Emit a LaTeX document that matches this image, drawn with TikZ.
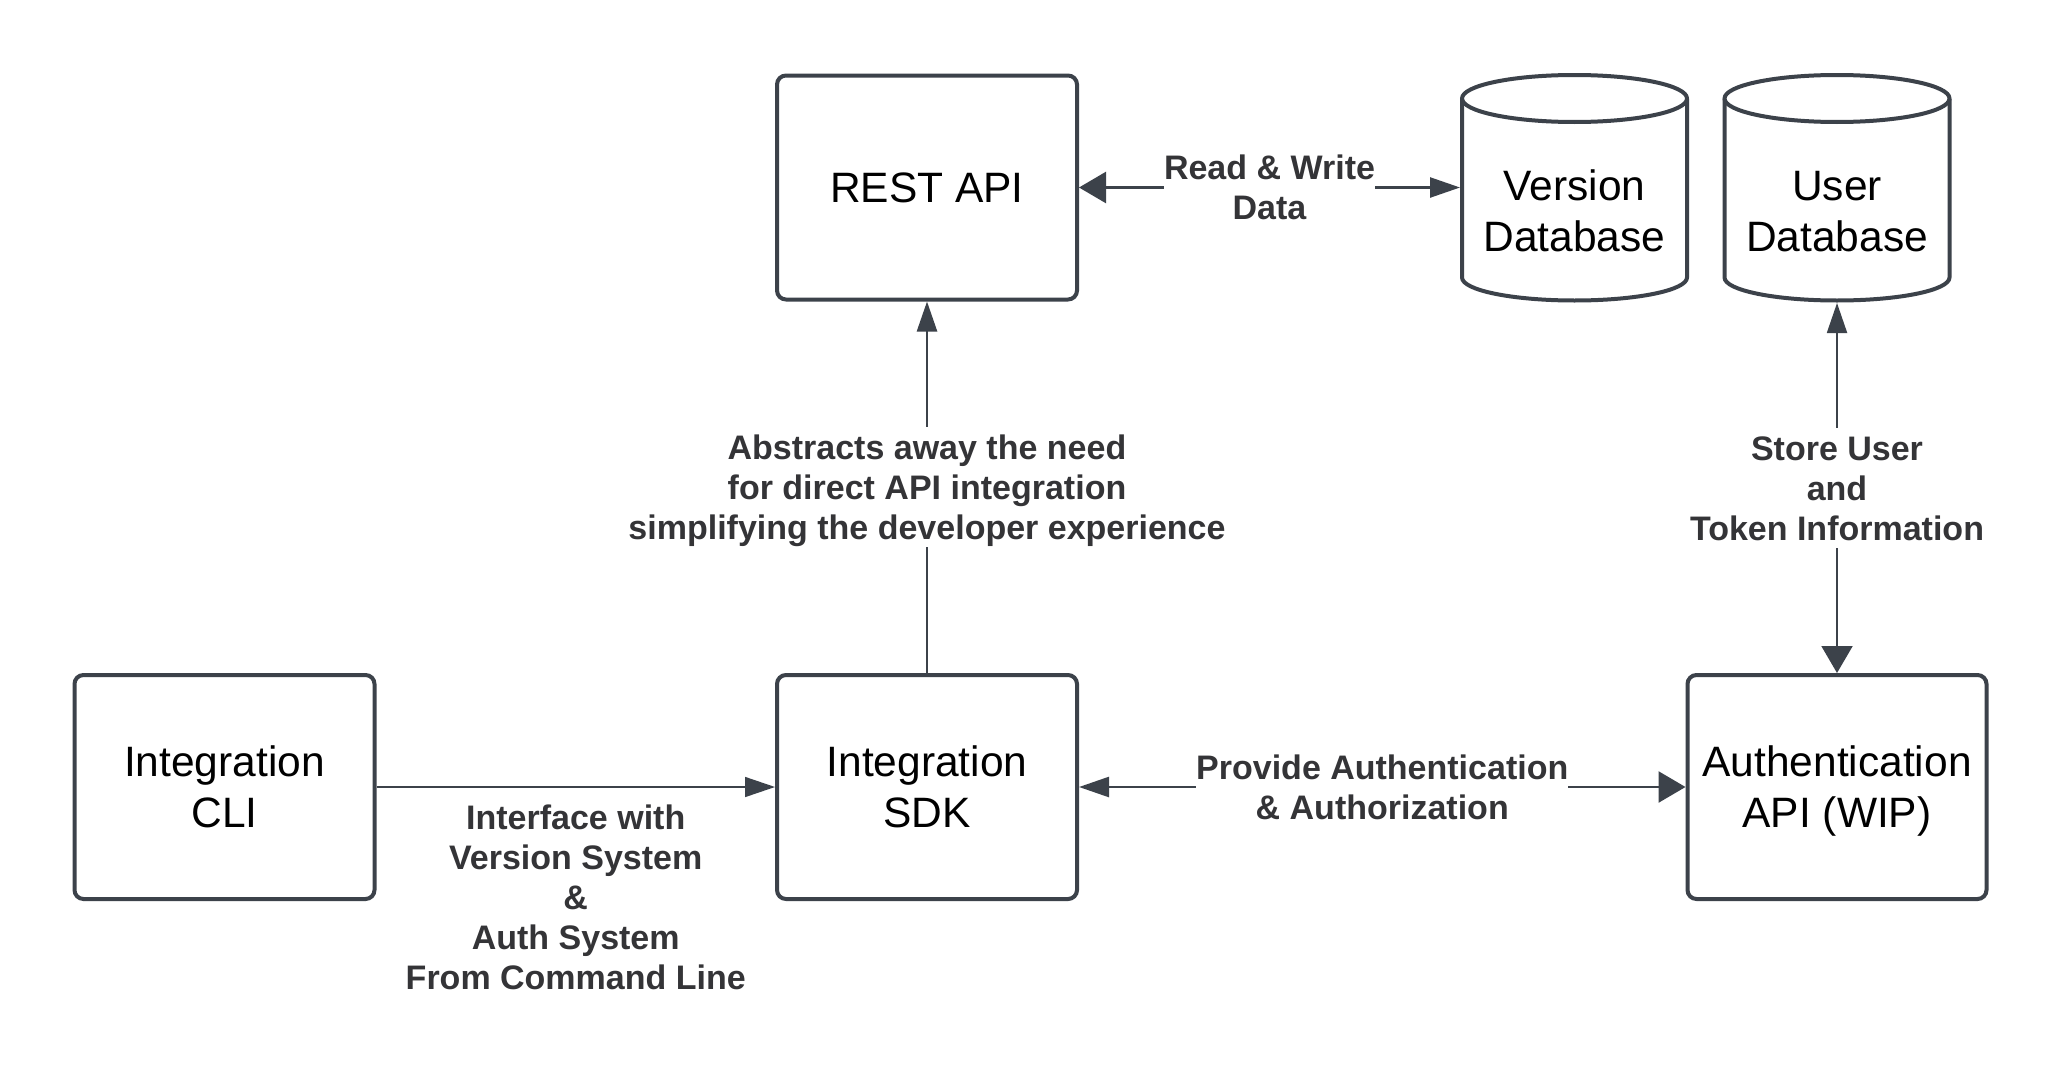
\documentclass[tikz,border=0pt]{standalone}
\usepackage{fontspec}
\setmainfont{Liberation Sans}
\usetikzlibrary{arrows.meta}
\definecolor{edge}{RGB}{60,66,74}
\definecolor{lbltext}{RGB}{52,52,55}
\newcommand{\lstr}{\vrule height 32pt depth 8pt width 0pt}
\newcommand{\bstr}{\vrule height 40.5pt depth 10.5pt width 0pt}
\begin{document}
\begin{tikzpicture}[x=1pt,y=-1pt,
  box/.style={draw=edge, line width=4pt, rounded corners=9pt, minimum width=300pt,
    minimum height=224pt, inner sep=0pt, align=center,
    font=\fontsize{42.5pt}{51pt}\selectfont, text=black},
  dbshape/.style={draw=none, line width=4pt, minimum width=225pt, minimum height=227pt, inner sep=0pt},
  cyl/.style={draw=edge, line width=4pt, line join=round},
  dbtext/.style={align=center, inner sep=0pt, font=\fontsize{42.5pt}{51pt}\selectfont, text=black},
  conn/.style={draw=edge, line width=2.5pt},
  lbl/.style={fill=white, text=lbltext, inner sep=0pt, align=center,
    font=\fontsize{34pt}{40pt}\selectfont\bfseries},
  bigtip/.tip={Triangle[length=27pt,width=31pt]},
  smalltip/.tip={Triangle[length=30pt,width=20pt]}]

\fill[white] (0,0) rectangle (2063,1073);
\useasboundingbox (0,0) rectangle (2063,1073);

% boxes
\node[box] (rest) at (927,187.5) {\bstr REST API};
\node[box] (cli) at (224.5,787) {\bstr Integration\\\bstr CLI};
\node[box] (sdk) at (927,787) {\bstr Integration\\\bstr SDK};
\node[box, minimum width=299pt] (auth) at (1837,787) {\bstr Authentication\\\bstr API (WIP)};

% databases
\node[dbshape] (vdb) at (1574.5,187.5) {};
\node[dbshape] (udb) at (1837,187.5) {};
\foreach \db in {vdb,udb}{
  \begin{scope}[shift={(\db.center)}]
    \draw[cyl] (-112.5,-89) -- (-112.5,90)
      arc[start angle=180, end angle=0, x radius=112.5, y radius=23] -- (112.5,-89);
    \draw[cyl] (0,-89) ellipse[x radius=112.5, y radius=23.5];
  \end{scope}
}
\node[dbtext] (vdbt) at ([yshift=-23.5pt]vdb.center) {\bstr Version\\\bstr Database};
\node[dbtext] (udbt) at ([yshift=-23.5pt]udb.center) {\bstr User\\\bstr Database};

% connectors
\draw[conn, {bigtip}-{smalltip}] (rest.east) --
  node[lbl] (rwl) {\lstr Read \& Write\\\lstr Data} (vdb.west);
\draw[conn, -{smalltip}] (sdk.north) --
  node[lbl] (absl) {\lstr Abstracts away the need\\for direct API integration\\\lstr simplifying the developer experience} (rest.south);
\draw[conn, line width=2pt, {smalltip}-{bigtip}] (udb.south) --
  node[lbl] (stl) {\lstr Store User\\and\\\lstr Token Information} (auth.north);
\draw[conn, line width=1.5pt, -{smalltip}] (cli.east) --
  node[lbl, below=10pt] (ifl) {\lstr Interface with\\Version System\\\&\\Auth System\\\lstr From Command Line} (sdk.west);
\draw[conn, {smalltip}-{bigtip}] (sdk.east) --
  node[lbl] (pal) {\lstr Provide Authentication\\\lstr \& Authorization} (auth.west);
\end{tikzpicture}
\end{document}
